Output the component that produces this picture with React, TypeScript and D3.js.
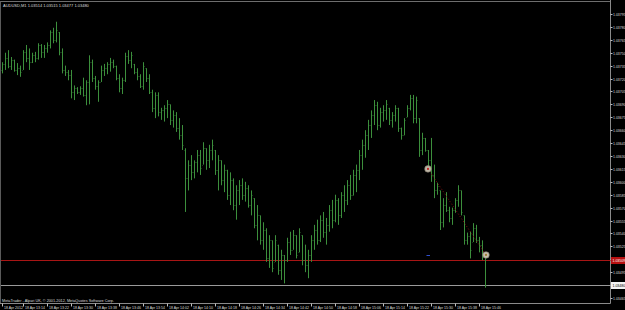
import React from "react";
import * as d3 from "d3";

const symbolName = "AUDUSD,M1";
const firstBarTime = "13:07";

const openPrices = [
  1.0373, 1.03737, 1.03744, 1.03735, 1.03742, 1.0373, 1.03732, 1.0373, 1.03751, 1.03744,
  1.03739, 1.03747, 1.03744, 1.03759, 1.03751, 1.03755, 1.03759, 1.03774, 1.03765, 1.03774,
  1.03751, 1.0373, 1.03728, 1.03724, 1.03704, 1.03709, 1.03704, 1.03709, 1.03701, 1.03716,
  1.03739, 1.03721, 1.03711, 1.03716, 1.0373, 1.03732, 1.03737, 1.03739, 1.03735, 1.03721,
  1.03709, 1.03718, 1.03746, 1.03742, 1.03737, 1.03728, 1.03723, 1.03711, 1.03732, 1.03721,
  1.03704, 1.03686, 1.03701, 1.03681, 1.03683, 1.03686, 1.0369, 1.03672, 1.03678, 1.03663,
  1.03654, 1.03637, 1.03604, 1.0362, 1.03611, 1.03623, 1.03631, 1.0362, 1.03639, 1.03625,
  1.03637, 1.03637, 1.03614, 1.03625, 1.03602, 1.03614, 1.03585, 1.03602, 1.03573, 1.0359,
  1.03596, 1.03585, 1.03593, 1.03573, 1.03581, 1.0355, 1.03561, 1.03532, 1.03544, 1.03511,
  1.03532, 1.03507, 1.03527, 1.03498, 1.03515, 1.03509, 1.0353, 1.03521, 1.03538, 1.03518,
  1.03538, 1.03509, 1.03503, 1.03515, 1.03532, 1.03544, 1.03532, 1.03556, 1.03542, 1.0355,
  1.03567, 1.03556, 1.03579, 1.03561, 1.03585, 1.03579, 1.03596, 1.03585, 1.03608, 1.03614,
  1.03631, 1.03643, 1.03654, 1.03666, 1.03678, 1.03689, 1.03666, 1.03681, 1.03683, 1.03686,
  1.03672, 1.03678, 1.03686, 1.03663, 1.03654, 1.03675, 1.03686, 1.03697, 1.03674, 1.03674,
  1.03637, 1.03651, 1.03637, 1.03625, 1.03608, 1.0359, 1.0359, 1.03553, 1.03573, 1.03567,
  1.03558, 1.03567, 1.03579, 1.0359, 1.03561, 1.03532, 1.03537, 1.0353, 1.03546, 1.03532,
  1.03527, 1.03514,
];

const highPrices = [
  1.03739, 1.0375, 1.03753, 1.03745, 1.03742, 1.03738, 1.03735, 1.03753, 1.03759, 1.03755,
  1.0375, 1.03751, 1.03761, 1.0376, 1.03759, 1.03762, 1.03776, 1.03779, 1.03786, 1.03774,
  1.03755, 1.03735, 1.0373, 1.0373, 1.03712, 1.0371, 1.03711, 1.03721, 1.03718, 1.03747,
  1.03742, 1.03723, 1.03718, 1.03735, 1.03737, 1.03739, 1.03744, 1.03742, 1.03735, 1.03725,
  1.03721, 1.0375, 1.03753, 1.03751, 1.03737, 1.03732, 1.03725, 1.03739, 1.03732, 1.03725,
  1.03707, 1.03704, 1.03704, 1.03686, 1.03689, 1.03695, 1.0369, 1.03683, 1.03681, 1.03674,
  1.03666, 1.03639, 1.03625, 1.03631, 1.03625, 1.03637, 1.03637, 1.03646, 1.03639, 1.03643,
  1.03649, 1.03637, 1.03631, 1.03625, 1.0362, 1.03614, 1.03611, 1.03604, 1.03596, 1.03602,
  1.03604, 1.036, 1.03596, 1.0359, 1.03581, 1.03573, 1.03561, 1.03553, 1.03546, 1.03538,
  1.03532, 1.03538, 1.03527, 1.03521, 1.03515, 1.03535, 1.03542, 1.03544, 1.03538, 1.03546,
  1.03538, 1.03527, 1.03521, 1.03538, 1.0355, 1.03556, 1.03561, 1.03565, 1.03558, 1.03573,
  1.03579, 1.03585, 1.03581, 1.03588, 1.03596, 1.03602, 1.03608, 1.03614, 1.0362, 1.03637,
  1.03649, 1.0366, 1.03672, 1.03683, 1.03695, 1.03693, 1.03686, 1.03689, 1.03695, 1.03686,
  1.03681, 1.03689, 1.03686, 1.03663, 1.03674, 1.03689, 1.03701, 1.03701, 1.03699, 1.03674,
  1.03657, 1.03651, 1.03637, 1.03651, 1.0362, 1.03599, 1.0359, 1.03581, 1.03588, 1.03571,
  1.0357, 1.03581, 1.03596, 1.0359, 1.03561, 1.03541, 1.03542, 1.03552, 1.0355, 1.03536,
  1.03532, 1.03515,
];

const lowPrices = [
  1.03726, 1.0373, 1.03732, 1.0373, 1.03728, 1.03724, 1.03722, 1.0373, 1.03739, 1.0373,
  1.03738, 1.03739, 1.03742, 1.03744, 1.03744, 1.0375, 1.03755, 1.03761, 1.03762, 1.03747,
  1.03726, 1.03723, 1.03718, 1.03697, 1.03695, 1.03702, 1.03701, 1.03699, 1.03689, 1.0369,
  1.03716, 1.03707, 1.03693, 1.03716, 1.03723, 1.03725, 1.03728, 1.03732, 1.03718, 1.03704,
  1.03702, 1.03716, 1.03737, 1.03732, 1.03725, 1.03718, 1.03709, 1.03707, 1.03716, 1.03702,
  1.03681, 1.03674, 1.03676, 1.03672, 1.0367, 1.03674, 1.03666, 1.03663, 1.03658, 1.03649,
  1.03637, 1.03565, 1.0359, 1.03602, 1.03604, 1.03611, 1.03608, 1.0362, 1.03614, 1.03616,
  1.03625, 1.03608, 1.0359, 1.03596, 1.03588, 1.03579, 1.03573, 1.03567, 1.03556, 1.03573,
  1.03579, 1.03577, 1.0357, 1.03561, 1.03546, 1.03532, 1.03527, 1.03521, 1.03507, 1.035,
  1.03495, 1.03507, 1.03492, 1.03486, 1.03482, 1.03507, 1.03515, 1.03521, 1.03511, 1.03518,
  1.03503, 1.03495, 1.03488, 1.03507, 1.03521, 1.03527, 1.0353, 1.03535, 1.03527, 1.03542,
  1.03546, 1.03553, 1.0355, 1.03558, 1.03565, 1.03573, 1.03579, 1.03584, 1.03588, 1.03602,
  1.03614, 1.03628, 1.03637, 1.03651, 1.03666, 1.0366, 1.03663, 1.0367, 1.03672, 1.03666,
  1.03663, 1.0367, 1.03658, 1.03649, 1.03654, 1.03675, 1.03683, 1.03668, 1.03668, 1.03629,
  1.03631, 1.03635, 1.03616, 1.036, 1.03581, 1.03585, 1.03544, 1.03547, 1.03565, 1.03553,
  1.0355, 1.03564, 1.03571, 1.03561, 1.03527, 1.03527, 1.03511, 1.0353, 1.03529, 1.03518,
  1.03509, 1.03477,
];

const closePrices = [
  1.03737, 1.03744, 1.03735, 1.03742, 1.0373, 1.03732, 1.03728, 1.03751, 1.03744, 1.03739,
  1.03747, 1.03744, 1.03759, 1.03751, 1.03755, 1.03759, 1.03774, 1.03765, 1.03776, 1.03751,
  1.0373, 1.03728, 1.03724, 1.03704, 1.03709, 1.03704, 1.03709, 1.03701, 1.03716, 1.03739,
  1.03721, 1.03711, 1.03716, 1.0373, 1.03732, 1.03737, 1.03739, 1.03735, 1.03721, 1.03709,
  1.03718, 1.03746, 1.03742, 1.03747, 1.03728, 1.03723, 1.03711, 1.03735, 1.03721, 1.03704,
  1.03686, 1.03701, 1.03681, 1.03683, 1.03686, 1.0369, 1.03672, 1.03678, 1.03663, 1.03654,
  1.03643, 1.03604, 1.0362, 1.03611, 1.03623, 1.03631, 1.03616, 1.03639, 1.03625, 1.03637,
  1.03643, 1.03614, 1.03625, 1.03602, 1.03614, 1.03585, 1.03602, 1.03573, 1.0359, 1.03596,
  1.03585, 1.03593, 1.03573, 1.03585, 1.0355, 1.03561, 1.03532, 1.03544, 1.03511, 1.03532,
  1.035, 1.03532, 1.03498, 1.03515, 1.03509, 1.0353, 1.03521, 1.03538, 1.03515, 1.03542,
  1.03509, 1.03503, 1.03515, 1.03532, 1.03544, 1.03532, 1.03556, 1.03542, 1.0355, 1.03567,
  1.03556, 1.03579, 1.03561, 1.03585, 1.03579, 1.03596, 1.03585, 1.03608, 1.03614, 1.03631,
  1.03643, 1.03654, 1.03666, 1.03678, 1.03689, 1.03666, 1.03681, 1.03683, 1.0369, 1.03672,
  1.03678, 1.03686, 1.03663, 1.03654, 1.03672, 1.03686, 1.03697, 1.03674, 1.03695, 1.03637,
  1.03651, 1.03637, 1.03625, 1.03608, 1.0359, 1.03595, 1.03553, 1.03573, 1.03567, 1.03558,
  1.03567, 1.03579, 1.0359, 1.03565, 1.03532, 1.03537, 1.03521, 1.03546, 1.03532, 1.03527,
  1.03515, 1.0348,
];

const priceTickLabels = [
  "1.03795", "1.03780", "1.03765", "1.03750", "1.03735", "1.03720", "1.03705", "1.03690",
  "1.03675", "1.03660", "1.03645", "1.03630", "1.03615", "1.03600", "1.03585", "1.03570",
  "1.03555", "1.03540", "1.03525", "1.03510", "1.03495", "1.03480", "1.03465",
];

const timeLabelTimes = [
  "13:07", "13:14", "13:22", "13:30", "13:38", "13:46", "13:54", "14:02", "14:10", "14:18", "14:26",
  "14:34", "14:42", "14:50", "14:58", "15:06", "15:14", "15:22", "15:30", "15:38", "15:46",
];
const timeLabelTexts = [
  "18 Apr 2012", "18 Apr 13:14", "18 Apr 13:22", "18 Apr 13:30", "18 Apr 13:38", "18 Apr 13:46",
  "18 Apr 13:54", "18 Apr 14:02", "18 Apr 14:10", "18 Apr 14:18", "18 Apr 14:26", "18 Apr 14:34",
  "18 Apr 14:42", "18 Apr 14:50", "18 Apr 14:58", "18 Apr 15:06", "18 Apr 15:14", "18 Apr 15:22",
  "18 Apr 15:30", "18 Apr 15:38", "18 Apr 15:46",
];

const askPrice = 1.03509;
const bidPrice = 1.0348;
const tradeTimes = ["15:29", "15:48"];
const tradePrices = [1.03615, 1.03515];
const takeProfitPrice = 1.03515;
const copyrightText = "MetaTrader - Alpari UK, \u00a9 2001-2012, MetaQuotes Software Corp.";

const toDate = (hm: string) => {
  const [h, m] = hm.split(":").map(Number);
  return new Date(2012, 3, 18, h, m);
};

export default function App() {
  const W = 625;
  const H = 310;
  const axisX = 610.5;
  const axisY = 303.5;
  const n = highPrices.length;
  const t0 = toDate(firstBarTime);
  const barTimes = d3.range(n).map((i) => d3.timeMinute.offset(t0, i));
  const x = d3.scaleTime().domain([barTimes[0], barTimes[n - 1]]).range([2, 485]);
  const tickVals = priceTickLabels.map(Number);
  const y = d3
    .scaleLinear()
    .domain([tickVals[0], tickVals[tickVals.length - 1]])
    .range([14, 298]);
  const fmt = d3.format(".5f");
  const green = "#3c8f3c";
  const font = "'Liberation Sans', Arial, sans-serif";
  const txt = "#dcdcdc";

  const px = (t: Date) => Math.round(x(t)) + 0.5;
  const askY = Math.round(y(askPrice)) + 0.5;
  const bidY = Math.round(y(bidPrice)) + 0.5;
  const tA = toDate(tradeTimes[0]);
  const tB = toDate(tradeTimes[1]);
  const mA = { x: x(tA), y: y(tradePrices[0]) };
  const mB = { x: x(tB) + 1, y: y(tradePrices[1]) };

  const header = `${symbolName}  ${fmt(openPrices[n - 1])} ${fmt(highPrices[n - 1])} ${fmt(
    lowPrices[n - 1]
  )} ${fmt(closePrices[n - 1])}`;

  return (
    <svg
      width={W}
      height={H}
      style={{ position: "absolute", left: 0, top: 0, display: "block", background: "#000" }}
      fontFamily={font}
    >
      <rect x={0} y={0} width={W} height={H} fill="#000" />
      {/* frame */}
      <line x1={0} x2={axisX} y1={1.5} y2={1.5} stroke="#6e6e6e" />
      <line x1={0.5} x2={0.5} y1={1.5} y2={axisY} stroke="#5a5a5a" />
      <line x1={axisX} x2={axisX} y1={0} y2={axisY} stroke="#8a8a8a" />
      <line x1={0} x2={axisX} y1={axisY} y2={axisY} stroke="#8a8a8a" />

      {/* ask and bid lines */}
      <line x1={1} x2={axisX} y1={askY} y2={askY} stroke="#a81515" />
      <line x1={1} x2={axisX} y1={bidY} y2={bidY} stroke="#9a9a9a" />

      {/* bars */}
      <g>
        {barTimes.map((t, i) => {
          const xi = px(t);
          return (
            <g key={i}>
              <line x1={xi} x2={xi} y1={y(highPrices[i])} y2={y(lowPrices[i])} stroke={green} />
              <rect
                x={xi - 1.5}
                y={Math.round(y(openPrices[i]))}
                width={1}
                height={1}
                fill={green}
                opacity={0.35}
              />
              <rect
                x={xi + 0.5}
                y={Math.round(y(closePrices[i]))}
                width={1}
                height={1}
                fill={green}
                opacity={0.35}
              />
            </g>
          );
        })}
      </g>

      {/* trade line and markers */}
      <line
        x1={mA.x}
        y1={mA.y}
        x2={mB.x}
        y2={mB.y}
        stroke="#8a1010"
        strokeDasharray="1,2"
      />
      <line
        x1={x(tA) - 1.5}
        x2={x(tA) + 2}
        y1={Math.round(y(takeProfitPrice)) + 0.5}
        y2={Math.round(y(takeProfitPrice)) + 0.5}
        stroke="#3050d0"
      />
      <circle cx={mA.x} cy={mA.y} r={3.3} fill="#bdb6a6" stroke="#7d7666" strokeWidth={0.6} />
      <circle cx={mA.x} cy={mA.y} r={1.1} fill="#c02020" />
      <circle cx={mB.x} cy={mB.y} r={3.3} fill="#c4bdab" stroke="#7d7666" strokeWidth={0.6} />
      <circle cx={mB.x} cy={mB.y} r={1.1} fill="#a07a30" />

      {/* header */}
      <text x={3} y={6.5} fontSize={4} fill={txt}>
        {header}
      </text>

      {/* copyright */}
      <text x={2} y={301.5} fontSize={3.8} fill={txt}>
        {copyrightText}
      </text>

      {/* price axis */}
      {priceTickLabels.map((lab, i) => {
        const ty = Math.round(y(tickVals[i])) + 0.5;
        const hidden = Math.abs(ty - askY) < 5 || Math.abs(ty - bidY) < 5;
        return (
          <g key={lab}>
            <line x1={axisX} x2={axisX + 2} y1={ty} y2={ty} stroke="#bdbdbd" />
            {!hidden && (
              <text x={613} y={ty + 1.3} fontSize={3.5} fill={txt}>
                {lab}
              </text>
            )}
          </g>
        );
      })}
      <rect x={611} y={askY - 3.5} width={14} height={7} fill="#b81010" />
      <text x={612.5} y={askY + 1.3} fontSize={3.5} fill="#ffffff">
        {fmt(askPrice)}
      </text>
      <rect x={611} y={bidY - 3.5} width={14} height={7} fill="#f4f4f4" />
      <text x={612.5} y={bidY + 1.3} fontSize={3.5} fill="#000000">
        {fmt(bidPrice)}
      </text>

      {/* time axis */}
      {timeLabelTimes.map((tm, i) => {
        const tx = Math.round(x(toDate(tm))) + 0.5;
        return (
          <g key={tm}>
            <line x1={tx} x2={tx} y1={axisY} y2={axisY + 3} stroke="#bdbdbd" />
            <text x={tx + 1.5} y={308.5} fontSize={3.5} fill={txt}>
              {timeLabelTexts[i]}
            </text>
          </g>
        );
      })}
    </svg>
  );
}
